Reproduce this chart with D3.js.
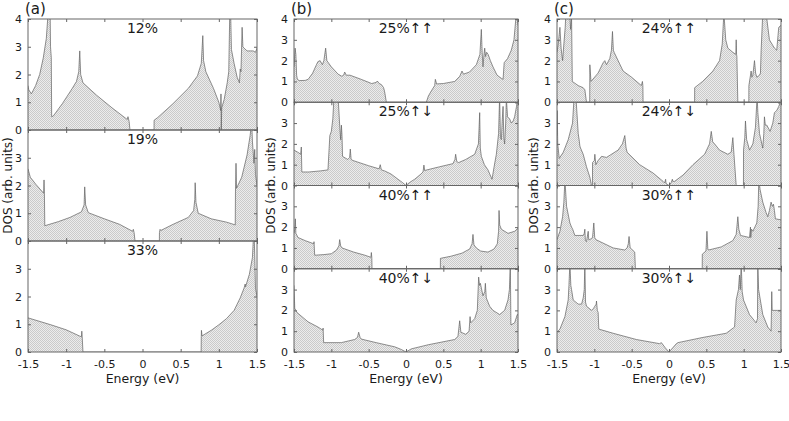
<!DOCTYPE html>
<html>
<head>
<meta charset="utf-8">
<script src="https://cdn.jsdelivr.net/npm/d3@7"></script>
<style>
body { margin: 0; background: #fff; }
text { font-family: "DejaVu Sans", sans-serif; fill: #1a1a1a; }
</style>
</head>
<body>
<script>
// tick labels and panel names
var energyTicks = [-1.5, -1, -0.5, 0, 0.5, 1, 1.5];
var dosTicks = [0, 1, 2, 3, 4];
var columnLetters = ['(a)', '(b)', '(c)'];
var titlesA = ['12%', '19%', '33%'];
var titlesB = ['25%↑↑', '25%↑↓', '40%↑↑', '40%↑↓'];
var titlesC = ['24%↑↑', '24%↑↓', '30%↑↑', '30%↑↓'];

// DOS curves, [energy (eV), DOS]
var dos12 = [[-1.5,1.6],[-1.49,1.45],[-1.456,1.3],[-1.40,1.6],[-1.347,2.0],[-1.30,2.6],[-1.26,3.3],[-1.237,4.2],[-1.225,4.5],[-1.21,4.2],[-1.205,3.0],[-1.195,2.6],[-1.19,0.48],[-1.17,0.5],[-1.05,0.95],[-0.92,1.5],[-0.865,1.75],[-0.835,2.1],[-0.822,2.85],[-0.81,2.0],[-0.78,1.7],[-0.6,1.25],[-0.4,0.8],[-0.2,0.38],[-0.19,0.48],[-0.175,0.3],[-0.164,0],[0.151,0],[0.152,0.35],[0.2,0.45],[0.4,0.95],[0.6,1.5],[0.72,1.95],[0.77,2.4],[0.79,3.4],[0.80,2.5],[0.83,2.1],[0.93,1.5],[1.0,1.0],[1.025,0.7],[1.028,1.3],[1.032,0],[1.038,0.8],[1.07,1.1],[1.11,1.7],[1.13,2.1],[1.145,4.5],[1.155,4.2],[1.165,2.9],[1.2,2.4],[1.24,1.9],[1.27,1.7],[1.28,2.2],[1.29,2.1],[1.305,3.7],[1.315,3.0],[1.33,2.95],[1.37,2.85],[1.45,2.85],[1.48,2.8],[1.5,2.95]];
var dos19 = [[-1.5,2.6],[-1.47,2.3],[-1.4,2.05],[-1.32,1.8],[-1.295,1.72],[-1.29,2.2],[-1.285,1.7],[-1.28,0.55],[-1.1,0.7],[-0.95,0.85],[-0.8,1.05],[-0.765,1.3],[-0.757,1.95],[-0.745,1.3],[-0.71,1.02],[-0.5,0.8],[-0.3,0.6],[-0.13,0.35],[-0.12,0.42],[-0.11,0.3],[-0.098,0],[0.221,0],[0.222,0.3],[0.23,0.42],[0.24,0.38],[0.4,0.6],[0.6,0.85],[0.67,1.1],[0.685,1.5],[0.69,2.1],[0.7,1.4],[0.73,1.0],[0.9,0.8],[1.1,0.68],[1.215,0.58],[1.218,1.8],[1.225,2.8],[1.232,1.9],[1.3,2.3],[1.37,3.1],[1.41,3.8],[1.43,4.3],[1.44,3.6],[1.46,2.8],[1.47,3.3],[1.48,2.4],[1.5,2.0]];
var dos33 = [[-1.5,1.23],[-1.2,0.98],[-1.0,0.8],[-0.82,0.57],[-0.8,0.55],[-0.795,0.75],[-0.79,0.55],[-0.78,0],[0.768,0],[0.77,0.55],[0.772,0.78],[0.78,0.58],[0.9,0.78],[1.0,0.98],[1.1,1.2],[1.2,1.5],[1.28,1.95],[1.33,2.3],[1.345,2.45],[1.35,2.35],[1.4,2.8],[1.44,3.4],[1.46,4.5],[1.47,3.5],[1.48,2.3],[1.5,2.0]];

var dos25uu = [[-1.5,1.7],[-1.485,2.6],[-1.475,2.3],[-1.465,1.3],[-1.455,1.1],[-1.43,1.04],[-1.35,1.05],[-1.31,1.1],[-1.25,1.4],[-1.2,1.8],[-1.18,1.95],[-1.15,2.0],[-1.12,1.8],[-1.1,2.0],[-1.076,2.6],[-1.06,2.0],[-1.0,1.7],[-0.91,1.35],[-0.86,1.25],[-0.835,1.3],[-0.821,1.45],[-0.8,1.3],[-0.75,1.3],[-0.6,1.1],[-0.46,0.9],[-0.4,0.95],[-0.384,1.02],[-0.36,0.9],[-0.33,0.85],[-0.3,0.7],[-0.286,0.5],[-0.263,0],[0.272,0],[0.3,0.3],[0.34,0.55],[0.384,0.8],[0.393,1.1],[0.41,0.88],[0.5,0.9],[0.652,1.0],[0.72,1.25],[0.75,1.5],[0.77,1.35],[0.85,1.45],[0.942,1.8],[0.99,2.3],[1.009,3.5],[1.02,2.4],[1.031,1.7],[1.045,2.3],[1.054,2.6],[1.065,2.2],[1.08,2.4],[1.1,2.3],[1.13,2.0],[1.165,1.7],[1.22,1.3],[1.277,1.15],[1.3,1.1],[1.315,1.9],[1.36,2.1],[1.41,2.5],[1.446,3.0],[1.478,4.3],[1.5,3.7]];
var dos25ud = [[-1.5,1.7],[-1.45,1.6],[-1.41,1.5],[-1.402,1.85],[-1.395,0.65],[-1.3,0.65],[-1.15,0.7],[-1.045,0.75],[-1.02,2.4],[-1.0,2.6],[-0.98,3.2],[-0.964,4.3],[-0.91,4.3],[-0.89,3.0],[-0.875,2.2],[-0.865,2.9],[-0.857,2.4],[-0.85,1.4],[-0.78,1.25],[-0.755,1.35],[-0.746,1.75],[-0.735,1.25],[-0.71,1.2],[-0.5,0.95],[-0.36,0.8],[-0.345,1.0],[-0.33,0.75],[-0.286,0.7],[-0.2,0.55],[-0.107,0.3],[-0.05,0.15],[0.0,0],[0.05,0.15],[0.116,0.3],[0.2,0.55],[0.228,0.65],[0.24,0.98],[0.25,0.72],[0.28,0.75],[0.45,0.9],[0.629,1.05],[0.655,1.25],[0.665,1.5],[0.68,1.15],[0.705,1.1],[0.8,1.25],[0.92,1.5],[0.97,2.0],[0.987,3.5],[0.995,1.8],[1.009,1.4],[1.05,1.0],[1.098,0.75],[1.152,0.3],[1.18,0.9],[1.21,1.5],[1.24,2.5],[1.254,4.3],[1.265,2.3],[1.277,2.2],[1.29,3.2],[1.3,3.8],[1.31,2.3],[1.321,2.0],[1.335,3.0],[1.344,4.2],[1.36,3.3],[1.388,3.2],[1.411,3.0],[1.435,3.1],[1.455,3.3],[1.48,3.8],[1.5,4.3]];
var dos40uu = [[-1.5,1.7],[-1.49,1.9],[-1.482,2.4],[-1.475,1.7],[-1.446,1.5],[-1.35,1.35],[-1.235,1.2],[-1.232,1.3],[-1.223,0.65],[-1.1,0.68],[-1.0,0.72],[-0.93,0.9],[-0.898,1.1],[-0.888,1.4],[-0.875,1.1],[-0.857,1.0],[-0.7,0.8],[-0.55,0.65],[-0.47,0.55],[-0.464,0.78],[-0.458,0.55],[-0.455,0],[0.46,0],[0.461,0.5],[0.6,0.6],[0.75,0.75],[0.853,0.95],[0.885,1.2],[0.897,1.65],[0.91,1.15],[0.942,1.0],[1.0,0.85],[1.098,0.8],[1.18,0.95],[1.223,1.2],[1.24,1.8],[1.246,2.8],[1.255,2.1],[1.277,1.9],[1.366,1.7],[1.455,1.8],[1.5,1.95]];
var dos40ud = [[-1.5,3.2],[-1.49,2.1],[-1.46,1.9],[-1.3125,1.45],[-1.179,1.2],[-1.115,1.05],[-1.11,1.15],[-1.103,0.45],[-0.866,0.45],[-0.688,0.6],[-0.65,0.7],[-0.634,0.95],[-0.615,0.7],[-0.598,0.62],[-0.4,0.45],[-0.152,0.25],[-0.0625,0.12],[0.0,0],[0.071,0.15],[0.3,0.35],[0.652,0.6],[0.696,0.75],[0.719,1.5],[0.735,0.95],[0.8,0.85],[0.845,1.0],[0.858,1.7],[0.866,1.4],[0.92,1.6],[0.955,2.0],[0.973,3.6],[0.985,3.2],[0.996,3.3],[1.031,2.7],[1.055,2.9],[1.063,3.3],[1.075,2.6],[1.12,2.2],[1.165,2.0],[1.254,1.8],[1.321,2.0],[1.366,2.5],[1.385,3.0],[1.397,4.3],[1.405,1.3],[1.455,1.4],[1.49,1.8],[1.5,1.8]];

var dos24uu = [[-1.5,2.4],[-1.483,2.8],[-1.461,3.6],[-1.445,2.6],[-1.425,2.0],[-1.408,2.8],[-1.39,3.6],[-1.381,4.3],[-1.33,4.3],[-1.318,3.5],[-1.305,4.1],[-1.295,1.0],[-1.216,0.8],[-1.15,0.7],[-1.127,0.6],[-1.105,0],[-1.062,0],[-1.06,1.8],[-1.045,1.0],[-0.95,1.4],[-0.882,1.9],[-0.86,2.0],[-0.837,1.8],[-0.793,2.1],[-0.771,2.5],[-0.757,3.4],[-0.745,2.5],[-0.735,2.4],[-0.615,1.5],[-0.5,1.2],[-0.37,0.8],[-0.356,1.0],[-0.35,0.8],[-0.347,0],[0.343,0],[0.344,0.7],[0.45,1.0],[0.588,1.5],[0.677,2.0],[0.713,2.8],[0.735,4.3],[0.76,3.0],[0.788,2.6],[0.855,2.4],[0.895,2.3],[0.9,3.0],[0.905,2.3],[0.909,2.2],[0.922,0],[1.069,0],[1.07,0.8],[1.1,1.5],[1.11,1.2],[1.123,1.3],[1.145,2.0],[1.16,1.4],[1.176,1.2],[1.212,1.3],[1.225,1.4],[1.234,2.5],[1.256,4.3],[1.3,4.3],[1.345,3.0],[1.412,2.6],[1.443,2.5],[1.46,3.2],[1.47,3.6],[1.5,3.7]];
var dos24ud = [[-1.5,2.4],[-1.497,3.6],[-1.49,2.0],[-1.47,1.3],[-1.416,1.6],[-1.35,2.2],[-1.292,3.0],[-1.27,4.3],[-1.247,4.3],[-1.216,2.5],[-1.2,2.1],[-1.194,1.9],[-1.185,1.8],[-1.149,1.5],[-1.105,0.9],[-1.06,0.4],[-1.038,0],[-1.025,0],[-1.024,1.1],[-1.0,1.2],[-0.993,1.5],[-0.98,1.0],[-0.949,1.2],[-0.904,1.4],[-0.837,1.35],[-0.682,1.7],[-0.624,2.0],[-0.592,2.4],[-0.575,1.8],[-0.561,1.6],[-0.392,1.0],[-0.214,0.6],[-0.08,0.2],[-0.058,0.12],[-0.045,0.3],[-0.04,0.1],[0.0,0],[0.031,0.15],[0.045,0.3],[0.05,0.2],[0.076,0.2],[0.187,0.5],[0.321,1.0],[0.477,1.5],[0.543,2.0],[0.566,2.6],[0.585,2.1],[0.61,2.0],[0.677,1.7],[0.788,1.5],[0.833,1.6],[0.855,2.3],[0.87,1.5],[0.9,0],[0.997,0],[0.998,1.7],[1.015,2.3],[1.024,3.1],[1.04,2.2],[1.056,2.0],[1.078,1.7],[1.123,2.0],[1.158,2.8],[1.18,4.3],[1.19,3.5],[1.212,2.5],[1.256,1.8],[1.27,2.5],[1.278,3.3],[1.29,2.9],[1.31,2.9],[1.354,2.6],[1.39,3.0],[1.412,3.5],[1.443,3.6],[1.47,3.8],[1.5,4.1]];
var dos30uu = [[-1.5,1.4],[-1.461,1.8],[-1.425,2.5],[-1.408,3.2],[-1.394,4.3],[-1.372,3.0],[-1.327,2.2],[-1.305,2.0],[-1.29,1.9],[-1.261,1.6],[-1.149,1.6],[-1.135,1.7],[-1.127,1.9],[-1.12,1.35],[-1.105,1.3],[-1.082,1.8],[-1.075,1.4],[-1.06,1.4],[-1.024,1.5],[-1.007,2.2],[-0.995,1.5],[-0.98,1.4],[-0.748,1.0],[-0.592,0.9],[-0.561,1.0],[-0.545,1.2],[-0.535,1.55],[-0.52,1.0],[-0.503,0.95],[-0.459,0.8],[-0.45,0],[0.445,0],[0.446,0.7],[0.495,0.85],[0.508,1.8],[0.52,0.95],[0.53,0.9],[0.7,1.05],[0.855,1.35],[0.9,1.65],[0.922,2.5],[0.935,1.9],[0.958,1.6],[1.078,1.5],[1.091,2.0],[1.095,1.5],[1.105,1.9],[1.123,1.8],[1.176,2.2],[1.194,3.0],[1.203,4.3],[1.22,3.8],[1.256,3.2],[1.3,2.7],[1.323,2.5],[1.345,2.8],[1.367,3.2],[1.385,3.0],[1.399,3.1],[1.412,2.8],[1.425,2.4],[1.5,2.35]];
var dos30ud = [[-1.5,0.95],[-1.461,1.1],[-1.394,1.7],[-1.35,2.5],[-1.34,3.2],[-1.327,4.3],[-1.315,3.2],[-1.305,3.0],[-1.283,2.5],[-1.216,2.3],[-1.171,2.3],[-1.149,2.6],[-1.135,3.0],[-1.127,4.3],[-1.118,2.4],[-1.105,2.2],[-1.07,2.1],[-1.038,2.0],[-1.01,2.1],[-0.993,2.2],[-0.975,2.3],[-0.971,2.45],[-0.96,2.0],[-0.949,1.9],[-0.94,1.1],[-0.748,0.9],[-0.437,0.6],[-0.125,0.4],[-0.102,0.45],[-0.05,0.2],[0.0,0],[0.05,0.2],[0.098,0.4],[0.12,0.45],[0.454,0.7],[0.766,0.9],[0.878,1.2],[0.9,2.5],[0.93,3.0],[0.944,3.7],[0.955,3.0],[0.967,4.3],[0.98,2.9],[0.998,2.5],[1.078,1.8],[1.167,1.4],[1.185,1.6],[1.189,4.3],[1.2,3.0],[1.256,1.8],[1.323,1.2],[1.367,1.0],[1.37,1.5],[1.376,2.9],[1.382,2.0],[1.45,2.0],[1.5,2.0]];

// layout of the three columns
var TOP = 19, BOTTOM = 352;
var columns = [
    {letter: columnLetters[0], left: 28,  right: 257, ylabX: 8,   titles: titlesA, series: [dos12, dos19, dos33]},
    {letter: columnLetters[1], left: 294, right: 518, ylabX: 271, titles: titlesB, series: [dos25uu, dos25ud, dos40uu, dos40ud]},
    {letter: columnLetters[2], left: 557, right: 781, ylabX: 534, titles: titlesC, series: [dos24uu, dos24ud, dos30uu, dos30ud]}
];

var svg = d3.select('body').append('svg')
    .attr('width', 789)
    .attr('height', 421);

// checkered grey fill like the original
var pat = svg.append('defs').append('pattern')
    .attr('id', 'dots')
    .attr('width', 2).attr('height', 2)
    .attr('patternUnits', 'userSpaceOnUse');
pat.append('rect').attr('width', 2).attr('height', 2).attr('fill', '#ececec');
pat.append('rect').attr('width', 1).attr('height', 1).attr('fill', '#cacaca');
pat.append('rect').attr('x', 1).attr('y', 1).attr('width', 1).attr('height', 1).attr('fill', '#cacaca');

columns.forEach(function (col, ci) {
    var x = d3.scaleLinear().domain([-1.5, 1.5]).range([col.left, col.right]);
    var n = col.series.length;
    var h = (BOTTOM - TOP) / n;

    col.series.forEach(function (data, i) {
        var top = TOP + i * h;
        var y = d3.scaleLinear().domain([0, 4]).range([top + h, top]);
        var clipId = 'clip' + ci + '_' + i;

        svg.append('clipPath').attr('id', clipId)
            .append('rect')
            .attr('x', col.left).attr('y', top)
            .attr('width', col.right - col.left).attr('height', h);

        var g = svg.append('g').attr('clip-path', 'url(#' + clipId + ')');

        g.append('path')
            .datum(data)
            .attr('fill', 'url(#dots)')
            .attr('d', d3.area()
                .x(function (d) { return x(d[0]); })
                .y0(y(0))
                .y1(function (d) { return y(d[1]); }));

        g.append('path')
            .datum(data)
            .attr('fill', 'none')
            .attr('stroke', '#606060')
            .attr('stroke-width', 0.7)
            .attr('d', d3.line()
                .x(function (d) { return x(d[0]); })
                .y(function (d) { return y(d[1]); }));

        // inward ticks on all four sides
        var yLeft = svg.append('g').attr('transform', 'translate(' + col.left + ',0)')
            .call(d3.axisLeft(y).tickValues(i === 0 ? dosTicks : dosTicks.slice(0, 4))
                .tickSize(-3).tickPadding(6).tickFormat(d3.format('d')));
        svg.append('g').attr('transform', 'translate(' + col.right + ',0)')
            .call(d3.axisRight(y).tickValues(dosTicks).tickSize(-3).tickFormat(''));
        svg.append('g').attr('transform', 'translate(0,' + top + ')')
            .call(d3.axisTop(x).tickValues(energyTicks).tickSize(-3).tickFormat(''));
        var xb = svg.append('g').attr('transform', 'translate(0,' + (top + h) + ')')
            .call(d3.axisBottom(x).tickValues(energyTicks).tickSize(-3).tickPadding(8)
                .tickFormat(i === n - 1 ? function (d) { return String(d); } : ''));

        svg.selectAll('.domain').remove();
        yLeft.selectAll('text').attr('font-size', 11);
        xb.selectAll('text').attr('font-size', 11);

        svg.append('rect')
            .attr('x', col.left).attr('y', top)
            .attr('width', col.right - col.left).attr('height', h)
            .attr('fill', 'none')
            .attr('stroke', '#666')
            .attr('stroke-width', 1);

        svg.append('text')
            .attr('x', (col.left + col.right) / 2)
            .attr('y', top + 14)
            .attr('text-anchor', 'middle')
            .attr('font-size', 14)
            .text(col.titles[i]);
    });

    svg.selectAll('.tick line').attr('stroke', '#666');

    svg.append('text')
        .attr('x', col.left - 3)
        .attr('y', 14)
        .attr('font-size', 15)
        .text(col.letter);

    svg.append('text')
        .attr('x', (col.left + col.right) / 2)
        .attr('y', 383)
        .attr('text-anchor', 'middle')
        .attr('font-size', 12.5)
        .text('Energy (eV)');

    svg.append('text')
        .attr('transform', 'translate(' + col.ylabX + ',' + ((TOP + BOTTOM) / 2) + ') rotate(-90)')
        .attr('text-anchor', 'middle')
        .attr('dy', '0.35em')
        .attr('font-size', 12)
        .text('DOS (arb. units)');
});
</script>
</body>
</html>
